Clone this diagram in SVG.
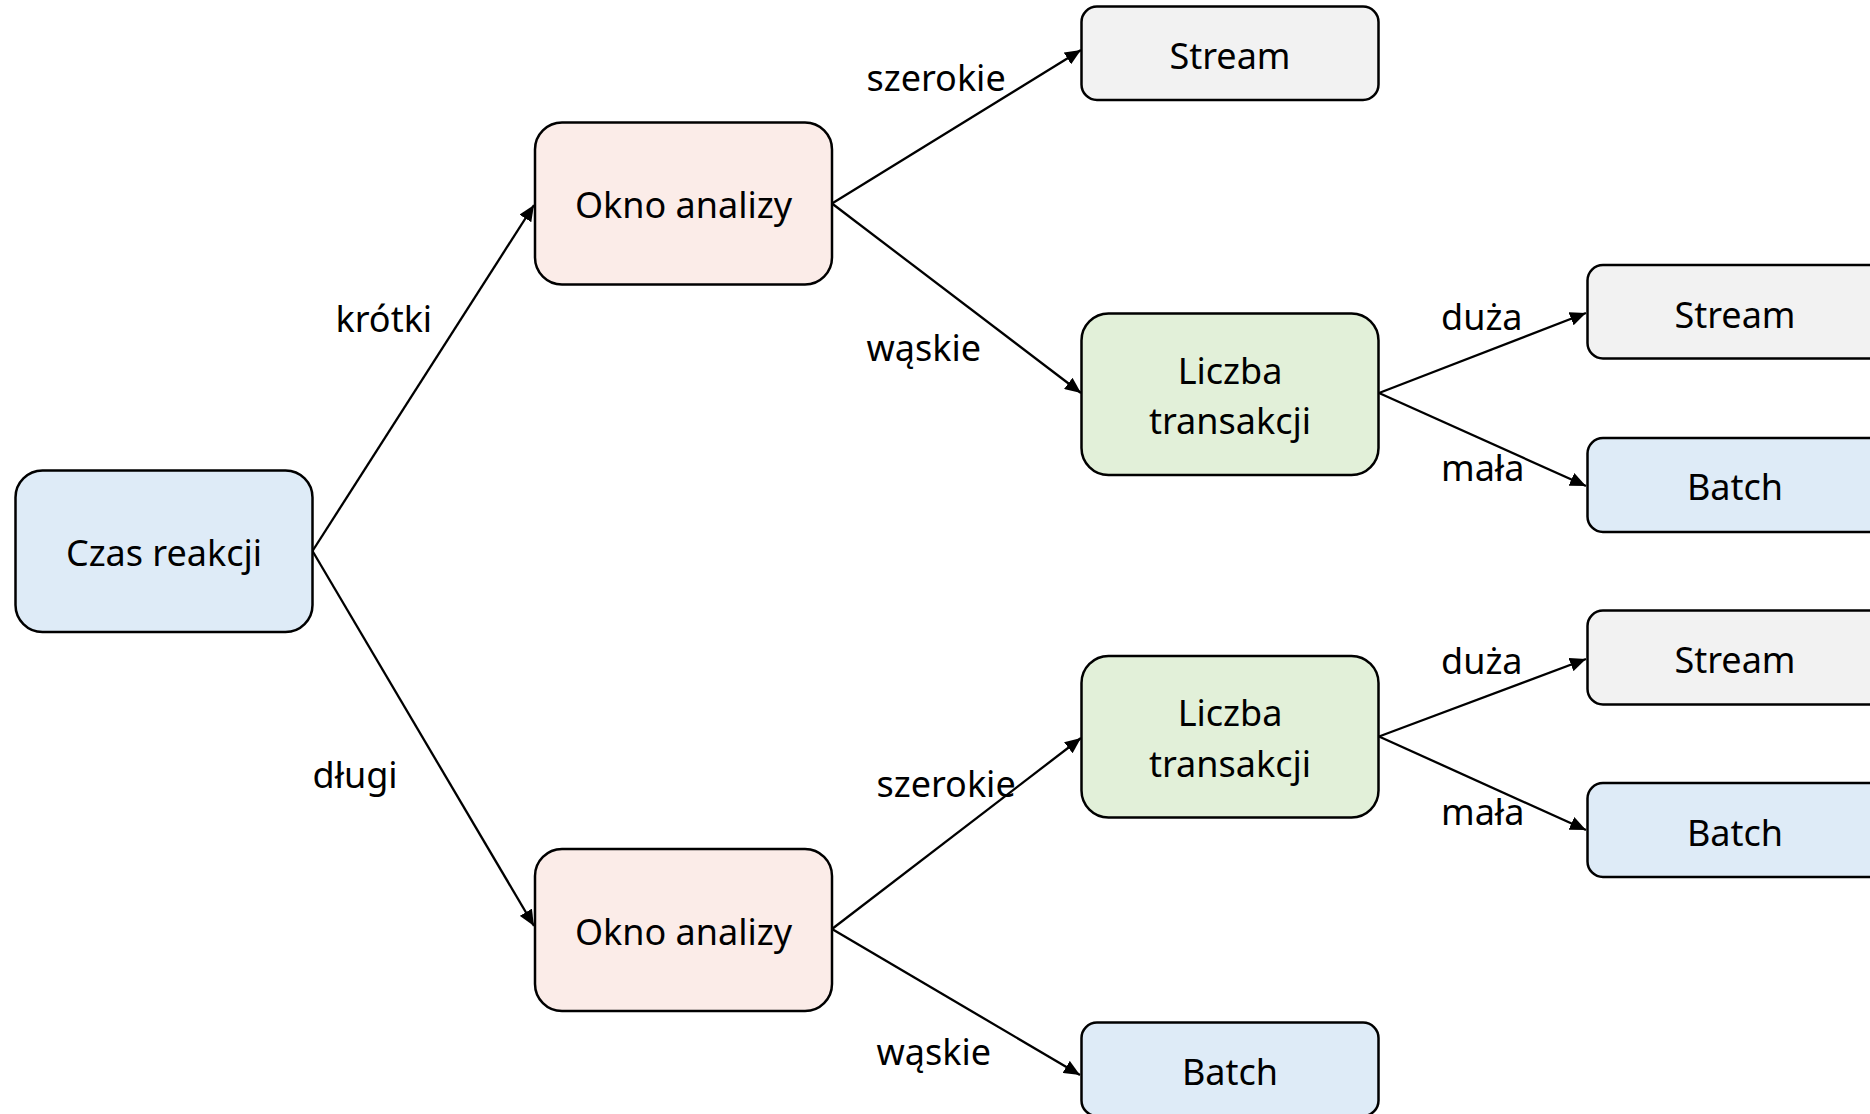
<svg xmlns="http://www.w3.org/2000/svg" width="1870" height="1114" viewBox="0 0 1870 1114">
<defs>
<marker id="arr" markerUnits="userSpaceOnUse" markerWidth="16" markerHeight="14" refX="16" refY="7" orient="auto">
<path d="M0,0 L16,7 L0,14 z" fill="#000"/>
</marker>
<style>
.box{stroke:#000;stroke-width:2.5}
.blue{fill:#DEEBF7}
.pink{fill:#FBECE8}
.green{fill:#E2F0D9}
.grey{fill:#F2F2F2}
text{font-family:"Noto Sans","Open Sans",sans-serif;font-size:36px;fill:#000}
.c{text-anchor:middle}
.edge{stroke:#000;stroke-width:2.3;fill:none;marker-end:url(#arr)}
</style>
</defs>
<rect width="1870" height="1114" fill="#fff"/>
<g id="connectors">
<line class="edge" x1="312.5" y1="551" x2="534" y2="205"/>
<line class="edge" x1="312.5" y1="551" x2="534" y2="926"/>
<line class="edge" x1="832" y1="203.5" x2="1081" y2="50"/>
<line class="edge" x1="832" y1="203.5" x2="1081" y2="393"/>
<line class="edge" x1="1379" y1="393" x2="1586" y2="313"/>
<line class="edge" x1="1379" y1="393" x2="1586" y2="486"/>
<line class="edge" x1="832" y1="929" x2="1081" y2="738"/>
<line class="edge" x1="832" y1="929" x2="1080" y2="1075"/>
<line class="edge" x1="1379" y1="736.5" x2="1586" y2="659"/>
<line class="edge" x1="1379" y1="736.5" x2="1586" y2="830"/>
<text x="335.5" y="331.5">krótki</text>
<text x="312.5" y="787.5">długi</text>
<text x="866.5" y="90.5">szerokie</text>
<text x="866.5" y="360.5">wąskie</text>
<text x="876.5" y="796.5">szerokie</text>
<text x="876.5" y="1064.5">wąskie</text>
<text x="1441" y="329.5">duża</text>
<text x="1441" y="480.5">mała</text>
<text x="1441" y="673.5">duża</text>
<text x="1441" y="824.5">mała</text>
</g>
<g id="czas">
<rect class="box blue" x="15.5" y="470.5" width="297" height="161.5" rx="27"/>
<text class="c" x="164" y="565.5">Czas reakcji</text>
</g>
<g id="okno1">
<rect class="box pink" x="535" y="122.5" width="297" height="162" rx="27"/>
<text class="c" x="683.5" y="218">Okno analizy</text>
</g>
<g id="okno2">
<rect class="box pink" x="535" y="849" width="297" height="162" rx="27"/>
<text class="c" x="683.5" y="944.5">Okno analizy</text>
</g>
<g id="stream1">
<rect class="box grey" x="1081.5" y="6.5" width="297" height="93.5" rx="15.5"/>
<text class="c" x="1230" y="68.5">Stream</text>
</g>
<g id="liczba1">
<rect class="box green" x="1081.5" y="313.5" width="297" height="161.5" rx="27"/>
<text class="c" x="1230" y="383.5">Liczba</text>
<text class="c" x="1230" y="433.5">transakcji</text>
</g>
<g id="liczba2">
<rect class="box green" x="1081.5" y="656" width="297" height="161.5" rx="27"/>
<text class="c" x="1230" y="725.5">Liczba</text>
<text class="c" x="1230" y="776.5">transakcji</text>
</g>
<g id="batch3">
<rect class="box blue" x="1081.5" y="1022.5" width="297" height="93.5" rx="15.5"/>
<text class="c" x="1230" y="1084.5">Batch</text>
</g>
<g id="stream2">
<rect class="box grey" x="1587.5" y="265" width="297" height="93.5" rx="15.5"/>
<text class="c" x="1735" y="327.5">Stream</text>
</g>
<g id="batch1">
<rect class="box blue" x="1587.5" y="438" width="297" height="94" rx="15.5"/>
<text class="c" x="1735" y="499.5">Batch</text>
</g>
<g id="stream3">
<rect class="box grey" x="1587.5" y="610.5" width="297" height="94" rx="15.5"/>
<text class="c" x="1735" y="672.5">Stream</text>
</g>
<g id="batch2">
<rect class="box blue" x="1587.5" y="783" width="297" height="94" rx="15.5"/>
<text class="c" x="1735" y="845.5">Batch</text>
</g>
</svg>
